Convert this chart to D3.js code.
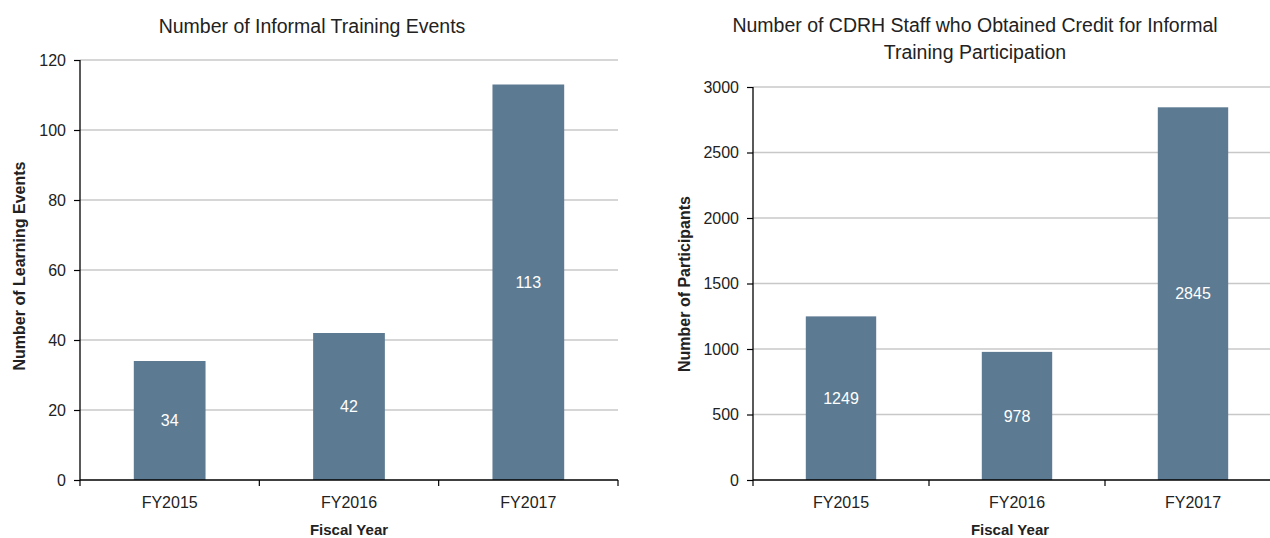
<!DOCTYPE html>
<html>
<head>
<meta charset="utf-8">
<script src="https://cdn.jsdelivr.net/npm/d3@7"></script>
<style>
  body { margin: 0; background: #fff; }
  svg { display: block; font-family: "Liberation Sans", Arial, sans-serif; }
</style>
</head>
<body>
<svg id="chart" width="1270" height="538"></svg>
<script>
var years = ["FY2015", "FY2016", "FY2017"];
var eventCounts = [34, 42, 113];
var participantCounts = [1249, 978, 2845];
var eventTicks = [0, 20, 40, 60, 80, 100, 120];
var participantTicks = [0, 500, 1000, 1500, 2000, 2500, 3000];

var barColor = "#5c7a91";
var svg = d3.select("#chart");

function drawPanel(opt) {
  var band = d3.scaleBand().domain(years).range([opt.left, opt.right]);
  var y = d3.scaleLinear().domain([0, opt.max]).range([opt.bottom, opt.top]);
  var g = svg.append("g");

  // gridlines
  g.selectAll(".grid").data(opt.ticks.slice(1)).enter().append("line")
    .attr("x1", opt.left).attr("x2", opt.right)
    .attr("y1", function(d) { return y(d); }).attr("y2", function(d) { return y(d); })
    .attr("stroke", "#c8c8c8").attr("stroke-width", 1.6);

  // bars
  g.selectAll(".bar").data(opt.values).enter().append("rect")
    .attr("x", function(d, i) { return band(years[i]) + band.bandwidth() * 0.3; })
    .attr("width", band.bandwidth() * 0.4)
    .attr("y", function(d) { return y(d); })
    .attr("height", function(d) { return opt.bottom - y(d); })
    .attr("fill", barColor);

  // value labels
  g.selectAll(".val").data(opt.values).enter().append("text")
    .attr("x", function(d, i) { return band(years[i]) + band.bandwidth() / 2; })
    .attr("y", function(d) { return (y(d) + opt.bottom) / 2; })
    .attr("dy", "0.35em")
    .attr("text-anchor", "middle")
    .attr("fill", "#fff")
    .attr("font-size", 16)
    .text(function(d) { return d; });

  // y axis
  var yAxis = d3.axisLeft(y).tickValues(opt.ticks).tickFormat(d3.format("d")).tickSize(6).tickPadding(8);
  var ya = g.append("g").attr("transform", "translate(" + opt.left + ",0)").call(yAxis);
  ya.select(".domain").attr("stroke", "#000").attr("stroke-width", 1.3).attr("d", "M0," + opt.top + "V" + opt.bottom);
  ya.selectAll(".tick line").attr("stroke", "#000").attr("stroke-width", 1.2);
  ya.selectAll(".tick text").attr("font-size", 16).attr("fill", "#222").attr("font-family", "Liberation Sans, Arial, sans-serif");

  // x axis with ticks at band boundaries
  var xAxis = d3.axisBottom(band).tickSize(0).tickPadding(17);
  var xa = g.append("g").attr("transform", "translate(0," + opt.bottom + ")").call(xAxis);
  xa.select(".domain").attr("stroke", "#000").attr("stroke-width", 1.3).attr("d", "M" + opt.left + ",0H" + opt.right);
  xa.selectAll(".tick text").attr("font-size", 16).attr("fill", "#222").attr("font-family", "Liberation Sans, Arial, sans-serif");
  var edges = years.map(function(d) { return band(d); }).concat([opt.right]);
  xa.selectAll(".edge").data(edges).enter().append("line")
    .attr("x1", function(d) { return d; }).attr("x2", function(d) { return d; })
    .attr("y1", 0).attr("y2", 6)
    .attr("stroke", "#000").attr("stroke-width", 1.2);

  // axis titles
  g.append("text")
    .attr("x", opt.xTitleX).attr("y", opt.bottom + 55)
    .attr("text-anchor", "middle").attr("font-weight", "bold").attr("font-size", 15).attr("fill", "#222")
    .text("Fiscal Year");
  g.append("text")
    .attr("transform", "translate(" + opt.yTitleX + "," + opt.yTitleY + ") rotate(-90)")
    .attr("text-anchor", "middle").attr("dy", "0.35em").attr("font-weight", "bold").attr("font-size", 16).attr("fill", "#222")
    .text(opt.yTitle);

  // chart title
  opt.title.forEach(function(line, i) {
    g.append("text")
      .attr("x", opt.titleX).attr("y", opt.titleY + i * 27)
      .attr("text-anchor", "middle").attr("font-size", 19.5).attr("fill", "#222")
      .text(line);
  });
}

drawPanel({
  left: 80, right: 618, top: 60, bottom: 480, max: 120,
  values: eventCounts, ticks: eventTicks,
  yTitle: "Number of Learning Events", yTitleX: 19, yTitleY: 266, xTitleX: 349,
  title: ["Number of Informal Training Events"], titleX: 312, titleY: 33
});

drawPanel({
  left: 753, right: 1281, top: 87, bottom: 480, max: 3000,
  values: participantCounts, ticks: participantTicks,
  yTitle: "Number of Participants", yTitleX: 684, yTitleY: 284, xTitleX: 1010,
  title: ["Number of CDRH Staff who Obtained Credit for Informal", "Training Participation"], titleX: 975, titleY: 32
});
</script>
</body>
</html>
